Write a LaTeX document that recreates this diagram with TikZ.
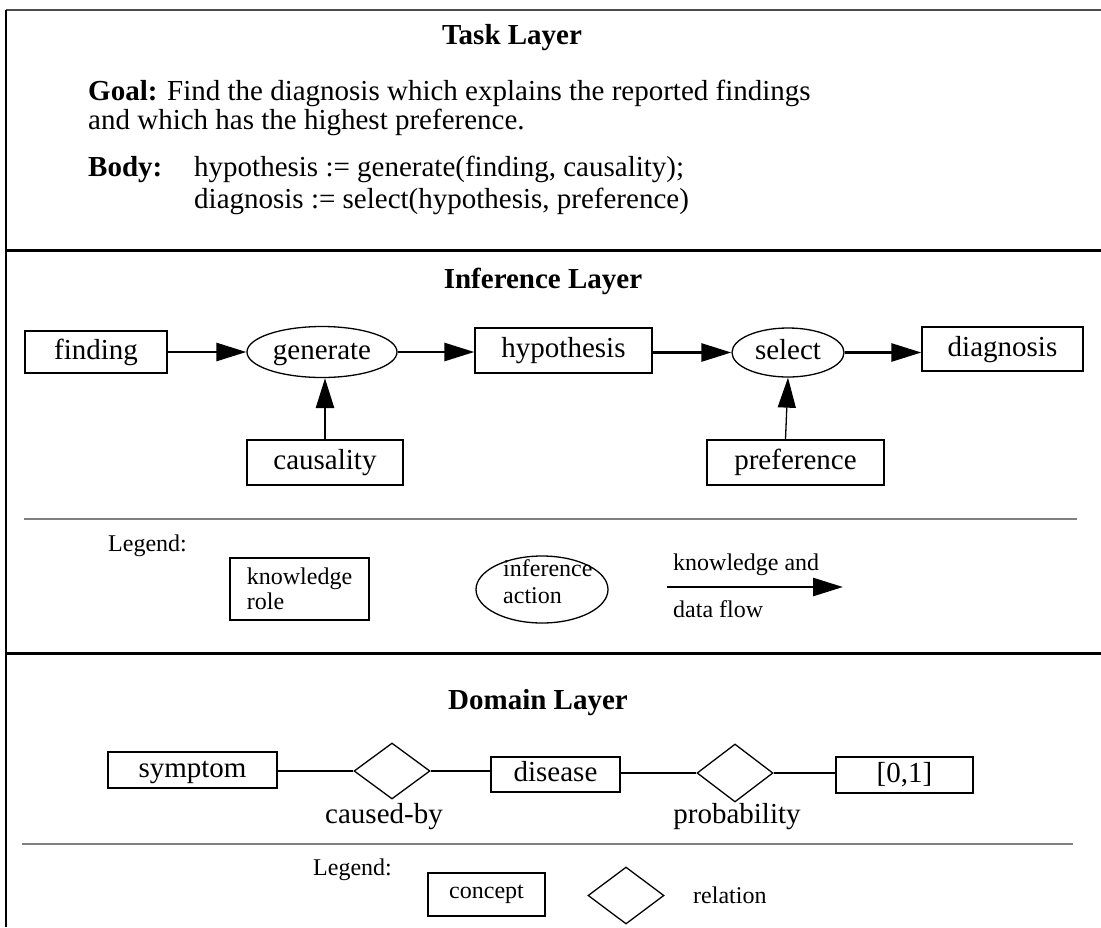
\documentclass[tikz,border=0pt]{standalone}
\usepackage{fontspec}
\setmainfont{Liberation Serif}
\usetikzlibrary{arrows.meta,shapes.geometric,calc}
\begin{document}
\begin{tikzpicture}[x=1pt,y=-1pt,
  big/.style={font=\fontsize{29}{33}\selectfont},
  small/.style={font=\fontsize{24}{25}\selectfont},
  ttl/.style={font=\fontsize{29}{33}\selectfont\bfseries},
  rolebox/.style={draw, line width=1.3pt, big, inner sep=0pt, text height=20pt, text depth=6pt},
  actell/.style={draw, ellipse, line width=1.3pt, big, inner sep=0pt, text height=20pt, text depth=6pt},
  relshape/.style={draw, diamond, line width=1.3pt, inner sep=0pt},
  flow/.style={line width=2.7pt, -{Triangle[length=30pt,width=18pt]}},
  thinflow/.style={line width=1.3pt, -{Triangle[length=30pt,width=18pt]}},
  link/.style={line width=2.5pt},
  sep/.style={line width=3pt},
  legsep/.style={line width=2.5pt, color=black!50},
]
\useasboundingbox (0,0) rectangle (1101,927);

% frame
\draw[line width=2pt, color=black!70] (6,10) -- (1101,10);
\draw[line width=1.6pt] (6,10) -- (6,927);
\draw[sep] (6,250) -- (1101,250);
\draw[sep] (6,653) -- (1101,653);

% ---------------- Task layer
\node[ttl, anchor=base] (tasktitle) at (512,44) {Task Layer};
\node[big, anchor=base west, inner sep=0pt] (goal1) at (88,100) {\textbf{Goal:} Find the diagnosis which explains the reported findings};
\node[big, anchor=base west, inner sep=0pt] (goal2) at (88,129) {and which has the highest preference.};
\node[big, anchor=base west, inner sep=0pt] (bodylbl) at (88,176) {\textbf{Body:}};
\node[big, anchor=base west, inner sep=0pt] (body1) at (194,176) {hypothesis := generate(finding, causality);};
\node[big, anchor=base west, inner sep=0pt] (body2) at (194,208) {diagnosis := select(hypothesis, preference)};

% ---------------- Inference layer
\node[ttl, anchor=base] (inftitle) at (543,288) {Inference Layer};

\node[rolebox, minimum width=142pt, minimum height=42pt] (finding) at (96,352) {finding};
\node[actell, minimum width=150pt, minimum height=51pt] (gen) at (322,352) {generate};
\node[rolebox, minimum width=177pt, minimum height=45pt] (hyp) at (563.5,350.5) {hypothesis};
\node[actell, minimum width=112pt, minimum height=49pt] (sel) at (788,352.5) {select};
\node[rolebox, minimum width=161pt, minimum height=44pt] (diag) at (1002.5,349) {diagnosis};
\node[rolebox, minimum width=156pt, minimum height=45pt] (caus) at (325,462.5) {causality};
\node[rolebox, minimum width=177pt, minimum height=45pt] (pref) at (795.5,462.5) {preference};

\draw[flow] (finding.east |- gen.west) -- (gen.west);
\draw[flow] (gen.east) -- (gen.east -| hyp.west);
\draw[flow] (hyp.east |- sel.west) -- (sel.west);
\draw[flow] (sel.east) -- (sel.east -| diag.west);
\draw[flow] (caus.north) -- (caus.north |- gen.south);
\draw[thinflow] ([xshift=-10pt]pref.north) -- (sel.south);

\draw[legsep] (24,519) -- (1077,519);

% legend (inference)
\node[small, anchor=base west, inner sep=0pt] (leg1) at (108,551) {Legend:};
\node[draw, line width=1.3pt, small, inner sep=0pt, minimum width=139pt, minimum height=62pt, align=left] (legrole) at (299.5,589) {knowledge\\role};
\node[draw, ellipse, line width=1.3pt, inner sep=0pt, minimum width=132pt, minimum height=67pt] (legact) at (542,589.5) {};
\node[small, anchor=base west, inner sep=0pt] (legacttxt1) at (503,576) {inference};
\node[small, anchor=base west, inner sep=0pt] (legacttxt2) at (503,603) {action};
\coordinate (lfa) at (667,587);
\coordinate (lfb) at (843,587);
\draw[flow] (lfa) -- (lfb);
\node[small, anchor=base west, inner sep=0pt] (lft1) at (673,570) {knowledge and};
\node[small, anchor=base west, inner sep=0pt] (lft2) at (673,617) {data flow};

% ---------------- Domain layer
\node[ttl, anchor=base] (domtitle) at (538,709) {Domain Layer};

\node[rolebox, minimum width=169pt, minimum height=36pt] (sym) at (192.5,770) {symptom};
\node[relshape, minimum width=76pt, minimum height=56pt] (cb) at (392,771) {};
\node[rolebox, minimum width=129pt, minimum height=35pt] (dis) at (555.5,774.5) {disease};
\node[relshape, minimum width=76pt, minimum height=58pt] (prob) at (735,773) {};
\node[rolebox, minimum width=137pt, minimum height=36pt] (unit) at (904.5,775) {[0,1]};

\draw[link] (cb.west -| sym.east) -- (cb.west);
\draw[link] (cb.east) -- (cb.east -| dis.west);
\draw[link] (dis.east |- prob.west) -- (prob.west);
\draw[link] (prob.east) -- (prob.east -| unit.west);

\node[big, anchor=base] (cblbl) at (384,823) {caused-by};
\node[big, anchor=base] (problbl) at (737,823) {probability};

\draw[legsep] (22,844) -- (1073,844);

% legend (domain)
\node[small, anchor=base west, inner sep=0pt] (leg2) at (313,875) {Legend:};
\node[draw, line width=1.3pt, small, inner sep=0pt, minimum width=117pt, minimum height=43pt] (legcon) at (486.5,894.5) {concept};
\node[relshape, minimum width=76pt, minimum height=57pt] (legrel) at (626,895.5) {};
\node[small, anchor=base west, inner sep=0pt] (legreltxt) at (693,903) {relation};
\end{tikzpicture}
\end{document}
